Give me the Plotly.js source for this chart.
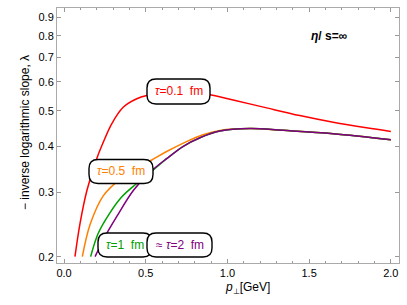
<!DOCTYPE html>
<html><head><meta charset="utf-8">
<script src="https://cdn.plot.ly/plotly-3.0.1.min.js"></script>
<style>html,body{margin:0;padding:0;background:#fff}</style>
</head><body>
<div id="plot" style="width:407px;height:305px"></div>
<script>
// tau = 0.1 fm
const redX = [0.067,0.098,0.14,0.2,0.235,0.291,0.362,0.445,0.506,0.6,0.7,0.8,0.893,1.035,1.24,1.443,1.647,1.851,2.0];
const redY = [0.2,0.2465,0.303,0.37,0.405,0.46,0.511,0.539,0.55,0.558,0.561,0.559,0.553,0.535,0.509,0.485,0.465,0.449,0.439];
// tau = 0.5 fm
const orangeX = [0.112,0.16,0.24,0.33,0.43,0.537,0.628,0.74,0.85,0.954,1.138,1.341,1.647,2.0];
const orangeY = [0.2,0.245,0.293,0.322,0.345,0.367,0.387,0.41,0.43,0.442,0.447,0.442,0.433,0.417];
// tau = 1 fm
const greenX = [0.163,0.21,0.28,0.35,0.42,0.5,0.628,0.73,0.832,0.954,1.138,1.341,1.647,2.0];
const greenY = [0.2,0.232,0.263,0.29,0.31,0.331,0.37,0.4,0.422,0.44,0.447,0.442,0.433,0.417];
// tau = 2 fm
const purpleX = [0.19,0.251,0.322,0.424,0.526,0.628,0.73,0.832,0.954,1.138,1.341,1.647,2.0];
const purpleY = [0.2,0.227,0.257,0.303,0.34,0.37,0.4,0.422,0.44,0.447,0.442,0.433,0.417];

const yTicks = [0.2,0.3,0.4,0.5,0.6,0.7,0.8,0.9];
const yTickText = ['0.2','0.3','0.4','0.5','0.6','0.7','0.8','0.9'];
const xTicks = [0,0.5,1,1.5,2];
const xTickText = ['0.0','0.5','1.0','1.5','2.0'];

const W = 407, H = 305, ML = 57, MR = 8, MT = 8, MB = 42;
const PW = W - ML - MR, PH = H - MT - MB;
function px(x){ return (x - ML) / PW; }
function py(y){ return (H - MB - y) / PH; }
function rbox(x0, y0, x1, y1, r){
  const rx = r / PW, ry = r / PH;
  const a = px(x0), b = px(x1), c = py(y1), d = py(y0);
  return {type:'path', xref:'paper', yref:'paper', layer:'above',
    line:{color:'#000', width:1.4}, fillcolor:'#fff',
    path:`M ${a+rx},${c} L ${b-rx},${c} Q ${b},${c} ${b},${c+ry} L ${b},${d-ry} Q ${b},${d} ${b-rx},${d} L ${a+rx},${d} Q ${a},${d} ${a},${d-ry} L ${a},${c+ry} Q ${a},${c} ${a+rx},${c} Z`};
}

const lw = 1.5;
const traces = [
  {x:redX, y:redY, mode:'lines', line:{color:'#ff0000', width:lw, shape:'spline'}},
  {x:orangeX, y:orangeY, mode:'lines', line:{color:'#ff8000', width:lw, shape:'spline'}},
  {x:greenX, y:greenY, mode:'lines', line:{color:'#00a000', width:lw, shape:'spline'}},
  {x:purpleX, y:purpleY, mode:'lines', line:{color:'#800080', width:lw, shape:'spline'}}
];

const F = 'Liberation Sans, Arial, sans-serif';
function lab(xc, yc, text, color, size, bold){
  return {xref:'paper', yref:'paper', x:px(xc), y:py(yc), xanchor:'center', yanchor:'middle',
    text: bold ? '<b>'+text+'</b>' : text, showarrow:false, font:{family:F, size:size||12, color:color}};
}

const layout = {
  width:W, height:H, margin:{l:ML, r:MR, t:MT, b:MB},
  paper_bgcolor:'#fff', plot_bgcolor:'#fff', showlegend:false,
  font:{family:F, size:11, color:'#000'},
  xaxis:{range:[-0.043,2.05], tickvals:xTicks, ticktext:xTickText, ticks:'inside', ticklen:4,
    tickcolor:'#999', showline:true, linecolor:'#aaa', linewidth:1, mirror:'ticks', showgrid:false,
    zeroline:false, tickfont:{family:F, size:11, color:'#000'},
    minor:{dtick:0.1, ticks:'inside', ticklen:2, tickcolor:'#999', showgrid:false}},
  yaxis:{type:'log', range:[Math.log10(0.1922), Math.log10(0.953)], tickvals:yTicks, ticktext:yTickText,
    ticks:'inside', ticklen:4, tickcolor:'#999', showline:true, linecolor:'#aaa', linewidth:1,
    mirror:'ticks', showgrid:false, zeroline:false, tickfont:{family:F, size:11, color:'#000'}},
  shapes:[
    rbox(147, 79, 210, 104, 9),
    rbox(89, 159.5, 153, 183.5, 9),
    rbox(98, 233, 152, 257, 9),
    rbox(147, 233, 212, 257, 9)
  ],
  annotations:[
    lab(178.5, 91.5, '<i>τ</i>=0.1  fm', '#ff0000'),
    lab(121, 171.5, '<i>τ</i>=0.5  fm', '#ff8000'),
    lab(125, 245, '<i>τ</i>=1  fm', '#00a000'),
    lab(179.5, 245, '≈ <i>τ</i>=2  fm', '#800080'),
    lab(329, 36, '<i>η</i>/ s=∞', '#000', 12, true),
    {xref:'paper', yref:'paper', x:px(25), y:py(133), xanchor:'center', yanchor:'middle', textangle:-90,
     text:'− inverse logarithmic slope, λ', showarrow:false, font:{family:F, size:12, color:'#000'}},
    lab(247, 288, '<i>p</i><sub>⊥</sub>[GeV]', '#000', 12)
  ]
};
Plotly.newPlot('plot', traces, layout, {staticPlot:true, displayModeBar:false});
</script>
</body></html>
